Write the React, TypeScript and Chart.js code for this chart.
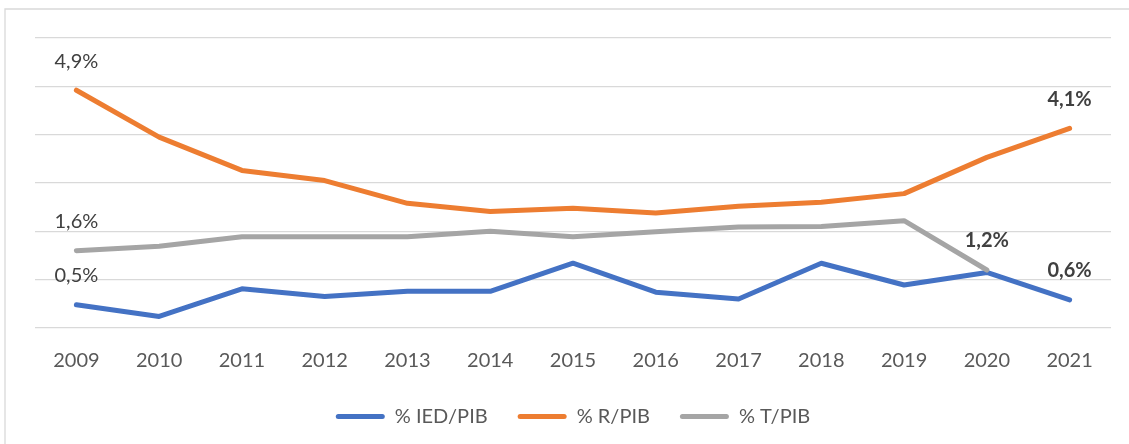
import React, { useEffect, useRef } from 'react';
import { Chart, registerables } from 'chart.js';

Chart.register(...registerables);

const years = ['2009', '2010', '2011', '2012', '2013', '2014', '2015', '2016', '2017', '2018', '2019', '2020', '2021'];
const iedPib = [0.48, 0.24, 0.81, 0.65, 0.76, 0.76, 1.34, 0.74, 0.6, 1.34, 0.89, 1.15, 0.58];
const rPib = [4.92, 3.95, 3.26, 3.05, 2.58, 2.41, 2.48, 2.38, 2.52, 2.6, 2.78, 3.53, 4.13];
const tPib = [1.6, 1.69, 1.89, 1.89, 1.89, 2.0, 1.89, 1.99, 2.09, 2.1, 2.22, 1.2, null];
const seriesNames = ['% IED/PIB', '% R/PIB', '% T/PIB'];
const seriesColors = ['#4472C4', '#ED7D31', '#A5A5A5'];
const yMin = 0;
const yMax = 6;
const yStep = 1;

// data labels
const labelSeries = [1, 2, 0, 1, 2, 0];
const labelPoints = [0, 0, 0, 12, 11, 12];
const labelTexts = ['4,9%', '1,6%', '0,5%', '4,1%', '1,2%', '0,6%'];
const labelBold = [false, false, false, true, true, true];

const FONT = 'Lato';

const frameAndLabels = {
  id: 'frameAndLabels',
  beforeDraw(chart: any) {
    const ctx = chart.ctx;
    ctx.save();
    ctx.fillStyle = '#ffffff';
    ctx.fillRect(0, 0, chart.width, chart.height);
    ctx.strokeStyle = '#d9d9d9';
    ctx.lineWidth = 1.3;
    ctx.beginPath();
    ctx.moveTo(5, chart.height + 5);
    ctx.lineTo(5, 9);
    ctx.lineTo(chart.width + 5, 9);
    ctx.stroke();
    ctx.restore();
  },
  afterDatasetsDraw(chart: any) {
    const ctx = chart.ctx;
    ctx.save();
    ctx.textAlign = 'center';
    ctx.textBaseline = 'middle';
    for (let i = 0; i < labelTexts.length; i++) {
      const meta = chart.getDatasetMeta(labelSeries[i]);
      const pt = meta.data[labelPoints[i]];
      if (!pt) continue;
      ctx.font = `${labelBold[i] ? 'bold ' : ''}20px ${FONT}`;
      ctx.fillStyle = '#404040';
      ctx.fillText(labelTexts[i], pt.x, pt.y - 29);
    }
    ctx.restore();
  },
};

const legendSpacing = {
  id: 'legendSpacing',
  beforeInit(chart: any) {
    const legend = chart.legend;
    if (!legend) return;
    const origFit = legend.fit;
    legend.fit = function () {
      origFit.call(this);
      this.height -= 10;
    };
    const origDraw = legend.draw;
    legend.draw = function () {
      const ctx = this.ctx;
      ctx.save();
      ctx.translate(0, -17.5);
      origDraw.call(this);
      ctx.restore();
    };
  },
};

export default function App() {
  const ref = useRef<HTMLCanvasElement | null>(null);
  useEffect(() => {
    document.body.style.margin = '0';
    const values = [iedPib, rPib, tPib];
    const chart = new Chart(ref.current as HTMLCanvasElement, {
      type: 'line',
      data: {
        labels: years,
        datasets: values.map((v, i) => ({
          label: seriesNames[i],
          data: v,
          borderColor: seriesColors[i],
          backgroundColor: seriesColors[i],
          borderWidth: 5,
          pointRadius: 0,
          pointHoverRadius: 0,
          tension: 0,
          borderCapStyle: 'round' as const,
          borderJoinStyle: 'round' as const,
          order: 2 - i,
          spanGaps: false,
        })),
      },
      options: {
        responsive: false,
        animation: false,
        layout: { padding: { left: 35, right: 18, top: 38, bottom: 0 } },
        scales: {
          x: {
            offset: true,
            grid: { display: false, drawTicks: false },
            border: { display: false },
            ticks: { color: '#595959', font: { family: FONT, size: 20 }, padding: 21 },
          },
          y: {
            min: yMin,
            max: yMax,
            ticks: { display: false, stepSize: yStep },
            grid: { color: '#d9d9d9', lineWidth: 1.3, drawTicks: false },
            border: { display: false },
          },
        },
        plugins: {
          tooltip: { enabled: false },
          legend: {
            position: 'bottom',
            labels: {
              boxWidth: 49,
              boxHeight: 5,
              useBorderRadius: true,
              borderRadius: 2.5,
              color: '#595959',
              font: { family: FONT, size: 20 },
              padding: 30,
              sort: (a: any, b: any) => a.datasetIndex - b.datasetIndex,
              generateLabels: (c: any) =>
                (Chart.defaults.plugins.legend.labels.generateLabels as any)(c).map((l: any) => ({
                  ...l,
                  lineWidth: 0,
                  strokeStyle: 'rgba(0,0,0,0)',
                })),
            },
          },
        },
      },
      plugins: [frameAndLabels, legendSpacing],
    });
    return () => chart.destroy();
  }, []);
  return (
    <div style={{ position: 'fixed', left: 0, top: 0, width: 1129, height: 444 }}>
      <canvas ref={ref} width={1129} height={444} style={{ display: 'block' }} />
    </div>
  );
}
